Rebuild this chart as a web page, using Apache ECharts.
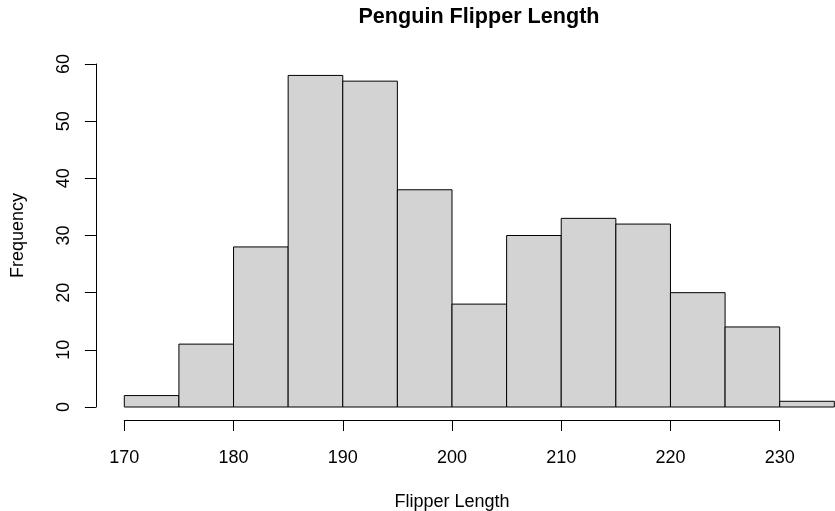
<!DOCTYPE html>
<html>
<head>
<meta charset="utf-8">
<script src="https://cdn.jsdelivr.net/npm/echarts@6/dist/echarts.min.js"></script>
<style>
  html, body { margin: 0; padding: 0; background: #fff; }
  #chart { width: 835px; height: 511px; }
</style>
</head>
<body>
<div id="chart"></div>
<script>
// Histogram bins (break points) and counts
var binStarts = [170, 175, 180, 185, 190, 195, 200, 205, 210, 215, 220, 225, 230];
var binEnds   = [175, 180, 185, 190, 195, 200, 205, 210, 215, 220, 225, 230, 235];
var counts    = [2, 11, 28, 58, 57, 38, 18, 30, 33, 32, 20, 14, 1];

var titleText = 'Penguin Flipper Length';
var xName = 'Flipper Length';
var yName = 'Frequency';

var FONT = '"Liberation Sans", Arial, Helvetica, sans-serif';

var data = binStarts.map(function (s, i) { return [s, binEnds[i], counts[i]]; });

var chart = echarts.init(document.getElementById('chart'), null, { renderer: 'canvas' });

chart.setOption({
  backgroundColor: '#ffffff',
  animation: false,
  title: {
    text: titleText,
    left: 479,
    top: 6,
    padding: 0,
    textAlign: 'center',
    textStyle: { fontFamily: FONT, fontSize: 21.6, fontWeight: 'bold', color: '#000' }
  },
  grid: { left: 124.3, right: 55.3, top: 64, bottom: 104, containLabel: false, outerBoundsMode: 'none' },
  xAxis: {
    type: 'value',
    min: 170, max: 230, interval: 10,
    offset: 13,
    name: xName,
    nameLocation: 'middle',
    nameGap: 73,
    nameTextStyle: { fontFamily: FONT, fontSize: 18, color: '#000' },
    axisLine: { show: true, onZero: false, lineStyle: { color: '#000', width: 1 } },
    axisTick: { show: true, length: 11, lineStyle: { color: '#000', width: 1 } },
    axisLabel: { fontFamily: FONT, fontSize: 18, color: '#000', margin: 29 },
    splitLine: { show: false }
  },
  yAxis: {
    type: 'value',
    min: 0, max: 60, interval: 10,
    offset: 28.4,
    name: yName,
    nameLocation: 'middle',
    nameGap: 69,
    nameTextStyle: { fontFamily: FONT, fontSize: 18, color: '#000' },
    axisLine: { show: true, onZero: false, lineStyle: { color: '#000', width: 1 } },
    axisTick: { show: true, length: 11, lineStyle: { color: '#000', width: 1 } },
    axisLabel: { fontFamily: FONT, fontSize: 18, color: '#000', margin: 23, rotate: 90 },
    splitLine: { show: false }
  },
  series: [{
    type: 'custom',
    clip: false,
    data: data,
    encode: { x: [0, 1], y: 2 },
    renderItem: function (params, api) {
      var p0 = api.coord([api.value(0), 0]);
      var p1 = api.coord([api.value(1), api.value(2)]);
      return {
        type: 'rect',
        shape: { x: p0[0], y: p1[1], width: p1[0] - p0[0], height: p0[1] - p1[1] },
        style: { fill: '#d3d3d3', stroke: '#000', lineWidth: 1 }
      };
    }
  }]
});
</script>
</body>
</html>
